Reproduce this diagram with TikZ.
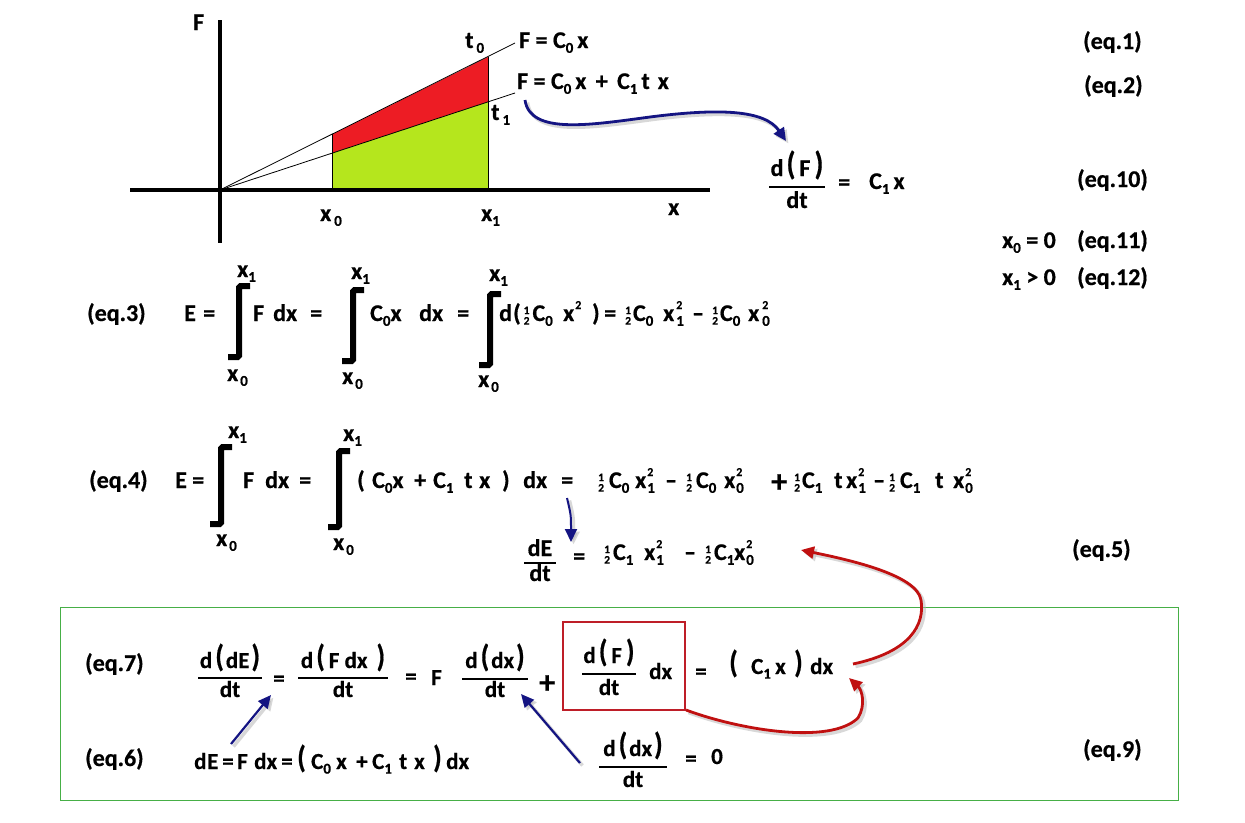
\documentclass[tikz,border=0pt]{standalone}
\usepackage{fontspec}
\setmainfont{Carlito}[BoldFeatures={FakeBold=0.6}]
\usepackage{graphicx}
\usetikzlibrary{arrows.meta}
\definecolor{redfill}{RGB}{237,28,36}
\definecolor{greenfill}{RGB}{181,230,29}
\definecolor{navyc}{RGB}{20,20,130}
\definecolor{darkredc}{RGB}{192,16,16}
\definecolor{boxgreen}{RGB}{70,175,70}
\definecolor{boxred}{RGB}{190,30,40}
\newcommand\sbs[1]{\raisebox{-0.2em}{\fontsize{15}{15}\selectfont #1}}
\newcommand\sps[1]{\raisebox{0.5em}{\fontsize{12}{12}\selectfont #1}}
\newcommand\ssb[2]{\rlap{\sps{#1}}\sbs{#2}}
\newcommand\hf{\raisebox{-0.15em}{\fontsize{11.5}{12}\selectfont\shortstack{1\\2}}}
\newcommand\bp[1]{\raisebox{0.06em}{\scalebox{1.2}[1.35]{#1}}}
\newcommand\tx[5][]{\node[anchor=base west,#1] (#2) at (#3,#4) {#5};}
\newcommand\frc[9][]{%
  \node[anchor=base,#1] (#2n) at (#3,#4) {#8};
  \node[anchor=base,#1] (#2d) at (#3,#6) {#9};
  \draw[fbar] (#3-#7,#5) -- (#3+#7,#5);}
\tikzset{
  lab/.style={font=\bfseries\fontsize{24}{28}\selectfont},
  bx/.style={font=\bfseries\fontsize{23}{27}\selectfont},
  big/.style={font=\bfseries\fontsize{32}{36}\selectfont},
  axisline/.style={line width=4pt},
  thinline/.style={line width=0.8pt},
  integ/.style={line width=6pt, rounded corners=1.5pt},
  fbar/.style={line width=1.2pt},
  shad/.style={preaction={draw=black!30, line width=3.5pt, opacity=0.5, transform canvas={xshift=2.5pt,yshift=-2.5pt}}},
  barrow/.style={navyc, line width=2.8pt, -{Triangle[length=13pt,width=12pt]}},
  rarrow/.style={darkredc, line width=2.8pt, -{Triangle[length=13pt,width=12pt]}},
}
\begin{document}
\begin{tikzpicture}[x=1pt,y=-1pt, every node/.style={inner sep=0pt, font=\bfseries\fontsize{24}{28}\selectfont}]
\useasboundingbox (0,0) rectangle (1245,822);
% ---------- graph ----------
\coordinate (O) at (220,190);
\coordinate (A) at (332,134.4);
\coordinate (B) at (488,57);
\coordinate (C) at (488,102);
\coordinate (D) at (332,153.2);
\coordinate (E0) at (332,190);
\coordinate (E1) at (488,190);
\coordinate (U) at (515,43);
\coordinate (L) at (515,93);
\fill[redfill] (A)--(B)--(C)--(D)--cycle;
\fill[greenfill] (D)--(C)--(E1)--(E0)--cycle;
\draw[thinline] (O)--(U);
\draw[thinline] (O)--(L);
\draw[thinline] (E0)--(A);
\draw[thinline] (E1)--(B);
\draw[axisline] (130,190)--(710,190);
\draw[axisline] (220,20)--(220,243);
\tx{lF}{193}{30}{F}
\tx{lt0}{465}{48}{t\hspace{3pt}\sbs{0}}
\tx{lt1}{491}{120}{t\hspace{3pt}\sbs{1}}
\tx{lx0}{320}{221}{x\hspace{3pt}\sbs{0}}
\tx{lx1}{481}{221}{x\sbs{1}}
\tx{lx}{668}{215}{x}
\tx{eqa}{519}{48}{F = C\sbs{0}\,x}
\tx{eqb}{517}{89}{F = C\sbs{0}\,x \,+\, C\sbs{1}\,t\,\,x}
% ---------- right labels ----------
\tx[lab]{q1}{1083}{49}{(eq.1)}
\tx[lab]{q2}{1084}{93}{(eq.2)}
\tx[lab]{q10}{1077}{187}{(eq.10)}
\tx[lab]{q11a}{1002}{248}{x\sbs{0} = 0}
\tx[lab]{q11}{1077}{248}{(eq.11)}
\tx[lab]{q12a}{1002}{285}{x\sbs{1} > 0}
\tx[lab]{q12}{1077}{285}{(eq.12)}
\frc{f7}{797}{176}{187}{208}{28}{d\hspace{3pt}\bp{(}\hspace{4pt}F\hspace{4pt}\bp{)}}{dt}
\tx{f7q}{838}{190}{=}
\tx{f7r}{869}{189}{C\sbs{1}\,x}
% ---------- eq.3 ----------
\tx[lab]{e3}{87}{321}{(eq.3)}
\tx{e3E}{184}{321}{E}
\tx{e3q1}{203}{321}{=}
\draw[integ] (250,286) -- (239,286) -- (239,357) -- (228,357);
\tx{e3u1}{237}{277}{x\sbs{1}}
\tx{e3l1}{227}{381}{x\hspace{2pt}\sbs{0}}
\tx{e3F}{253}{321}{F}
\tx{e3dx}{273}{321}{dx}
\tx{e3q2}{310}{321}{=}
\draw[integ] (364,290) -- (353,290) -- (353,361) -- (342,361);
\tx{e3u2}{351}{279}{x\sbs{1}}
\tx{e3l2}{342}{384}{x\hspace{2pt}\sbs{0}}
\tx{e3C}{370}{321}{C\sbs{0}x}
\tx{e3dx2}{419}{321}{dx}
\tx{e3q3}{457}{321}{=}
\draw[integ] (501,294) -- (490,294) -- (490,365) -- (479,365);
\tx{e3u3}{489}{281}{x\sbs{1}}
\tx{e3l3}{478}{387}{x\hspace{2pt}\sbs{0}}
\tx{e3d}{499}{321}{d}
\tx{e3c1}{513}{321}{(\hspace{3pt}\hf\hspace{3pt}C\sbs{0}}
\tx{e3x1}{563}{321}{x\hspace{1pt}\sps{2}}
\tx{e3p2}{592}{321}{)}
\tx{e3q4}{604}{321}{=}
\tx{e3c2}{625}{321}{\hf\hspace{2pt}C\sbs{0}}
\tx{e3x2}{663}{321}{x\hspace{2pt}\ssb{2}{1}}
\tx{e3m}{692}{321}{–}
\tx{e3c3}{712}{321}{\hf\hspace{2pt}C\sbs{0}}
\tx{e3x3}{748}{321}{x\hspace{3pt}\ssb{2}{0}}
% ---------- eq.4 ----------
\tx[lab]{e4}{89}{488}{(eq.4)}
\tx{e4E}{175}{488}{E}
\tx{e4q1}{192}{488}{=}
\draw[integ] (232,447) -- (221,447) -- (221,524) -- (210,524);
\tx{e4u1}{228}{438}{x\sbs{1}}
\tx{e4l1}{216}{546}{x\hspace{2pt}\sbs{0}}
\tx{e4F}{243}{488}{F}
\tx{e4dx}{265}{488}{dx}
\tx{e4q2}{299}{488}{=}
\draw[integ] (350,451) -- (339,451) -- (339,527) -- (328,527);
\tx{e4u2}{343}{441}{x\sbs{1}}
\tx{e4l2}{333}{550}{x\hspace{2pt}\sbs{0}}
\tx{e4p1}{357}{488}{(}
\tx{e4c1}{372}{488}{C\sbs{0}x}
\tx{e4pl}{414}{488}{+}
\tx{e4c2}{433}{488}{C\sbs{1}}
\tx{e4t}{464}{488}{t}
\tx{e4x}{479}{488}{x}
\tx{e4p2}{502}{488}{)}
\tx{e4dx2}{523}{488}{dx}
\tx{e4q3}{561}{488}{=}
\tx{e4c3}{598}{488}{\hf\hspace{5pt}C\sbs{0}}
\tx{e4x1}{635}{488}{x\hspace{1pt}\ssb{2}{1}}
\tx{e4m1}{665}{488}{–}
\tx{e4c4}{686}{488}{\hf\hspace{4pt}C\sbs{0}}
\tx{e4x2}{724}{488}{x\hspace{1pt}\ssb{2}{0}}
\tx[big]{e4pl2}{771}{492}{+}
\tx{e4c5}{794}{488}{\hf\hspace{2pt}C\sbs{1}}
\tx{e4t2}{834}{488}{t}
\tx{e4x3}{846}{488}{x\hspace{1pt}\ssb{2}{1}}
\tx{e4m2}{873}{488}{–}
\tx{e4c6}{889}{488}{\hf\hspace{5pt}C\sbs{1}}
\tx{e4t3}{935}{488}{t}
\tx{e4x4}{953}{488}{x\hspace{1pt}\ssb{2}{0}}
% ---------- eq.5 ----------
\frc{f6}{540}{556}{563}{581}{16}{dE}{dt}
\tx{e5q}{573}{564}{=}
\tx{e5c1}{604}{560}{\hf\hspace{3pt}C\sbs{1}}
\tx{e5x1}{644}{560}{x\hspace{1pt}\ssb{2}{1}}
\tx{e5m}{684}{560}{–}
\tx{e5c2}{705}{560}{\hf\hspace{3pt}C\sbs{1}}
\tx{e5x2}{734}{560}{x\hspace{1pt}\ssb{2}{0}}
\tx[lab]{q5}{1072}{557}{(eq.5)}
% ---------- box ----------
\draw[boxgreen, line width=1pt] (60,607) rectangle (1178,800);
\draw[boxred, line width=1.6pt] (563,622) rectangle (685,710);
\tx[lab]{q7}{85}{671}{(eq.7)}
\frc[bx]{f1}{230}{668}{678}{697}{32}{d\hspace{3pt}\bp{(}\hspace{2pt}dE\hspace{2pt}\bp{)}}{dt}
\tx[bx]{e7q1}{273}{686}{=}
\frc[bx]{f2}{343}{668}{678}{697}{45}{d\hspace{3pt}\bp{(}\hspace{4pt}F dx\hspace{9pt}\bp{)}}{dt}
\tx[bx]{e7q2}{405}{684}{=}
\tx[bx]{e7F}{431}{685}{F}
\frc[bx]{f3}{495}{668}{679}{697}{33}{d\hspace{3pt}\bp{(}\hspace{2pt}dx\hspace{2pt}\bp{)}}{dt}
\tx[big]{e7pl}{539}{693}{+}
\frc[bx]{f4}{609}{663}{674}{695}{27}{d\hspace{3pt}\bp{(}\hspace{4pt}F\hspace{4pt}\bp{)}}{dt}
\tx[bx]{e7dx}{649}{679}{dx}
\tx[bx]{e7q3}{695}{679}{=}
\tx[bx]{e7p1}{729}{674}{\bp{(}}
\tx[bx]{e7c}{751}{674}{C\sbs{1}}
\tx[bx]{e7x}{775}{674}{x}
\tx[bx]{e7p2}{794}{674}{\bp{)}}
\tx[bx]{e7dx2}{810}{674}{dx}
% eq.6
\tx[lab]{q6}{85}{766}{(eq.6)}
\tx[bx]{e6d}{194}{769}{d}
\tx[bx]{e6E}{207}{769}{E}
\tx[bx]{e6q1}{222}{769}{=}
\tx[bx]{e6F}{237}{769}{F}
\tx[bx]{e6dx}{254}{769}{dx}
\tx[bx]{e6q2}{281}{769}{=}
\tx[bx]{e6p1}{297}{769}{\bp{(}}
\tx[bx]{e6c0}{311}{769}{C\sbs{0}}
\tx[bx]{e6x0}{336}{769}{x}
\tx[bx]{e6pl}{356}{769}{+}
\tx[bx]{e6c1}{372}{769}{C\sbs{1}}
\tx[bx]{e6t}{399}{769}{t}
\tx[bx]{e6x}{414}{769}{x}
\tx[bx]{e6p2}{433}{769}{\bp{)}}
\tx[bx]{e6dx2}{446}{769}{dx}
\frc[bx]{f5}{633}{756}{767}{787}{34}{d\hspace{3pt}\bp{(}\hspace{2pt}dx\hspace{2pt}\bp{)}}{dt}
\tx[bx]{e9q}{685}{766}{=}
\tx[bx]{e9z}{711}{764}{0}
\tx[lab]{q9}{1083}{757}{(eq.9)}
% ---------- arrows ----------
\coordinate (b1s) at (525,100);
\coordinate (b1e) at (786,141);
\draw[barrow, shad] (b1s) .. controls (530,135) and (590,125) .. (650,117) .. controls (720,108) and (765,110) .. (b1e);
\coordinate (b2s) at (567,498);
\coordinate (b2e) at (571,542);
\draw[barrow, line width=2pt, shad] (b2s) .. controls (571,515) .. (b2e);
\coordinate (b3s) at (231,744);
\coordinate (b3e) at (271,695);
\draw[barrow, line width=2.2pt, shad] (b3s) -- (b3e);
\coordinate (b4s) at (580,763);
\coordinate (b4e) at (521,694);
\draw[barrow, line width=2.2pt, shad] (b4s) -- (b4e);
\coordinate (r1s) at (853,664);
\coordinate (r1e) at (801,550);
\draw[rarrow, shad] (r1s) .. controls (910,652) and (925,625) .. (921,600) .. controls (917,575) and (850,560) .. (r1e);
\coordinate (r2s) at (686,710);
\coordinate (r2e) at (849,678);
\draw[rarrow, shad] (r2s) .. controls (740,730) and (830,745) .. (858,718) .. controls (866,705) and (862,690) .. (r2e);
\end{tikzpicture}
\end{document}
